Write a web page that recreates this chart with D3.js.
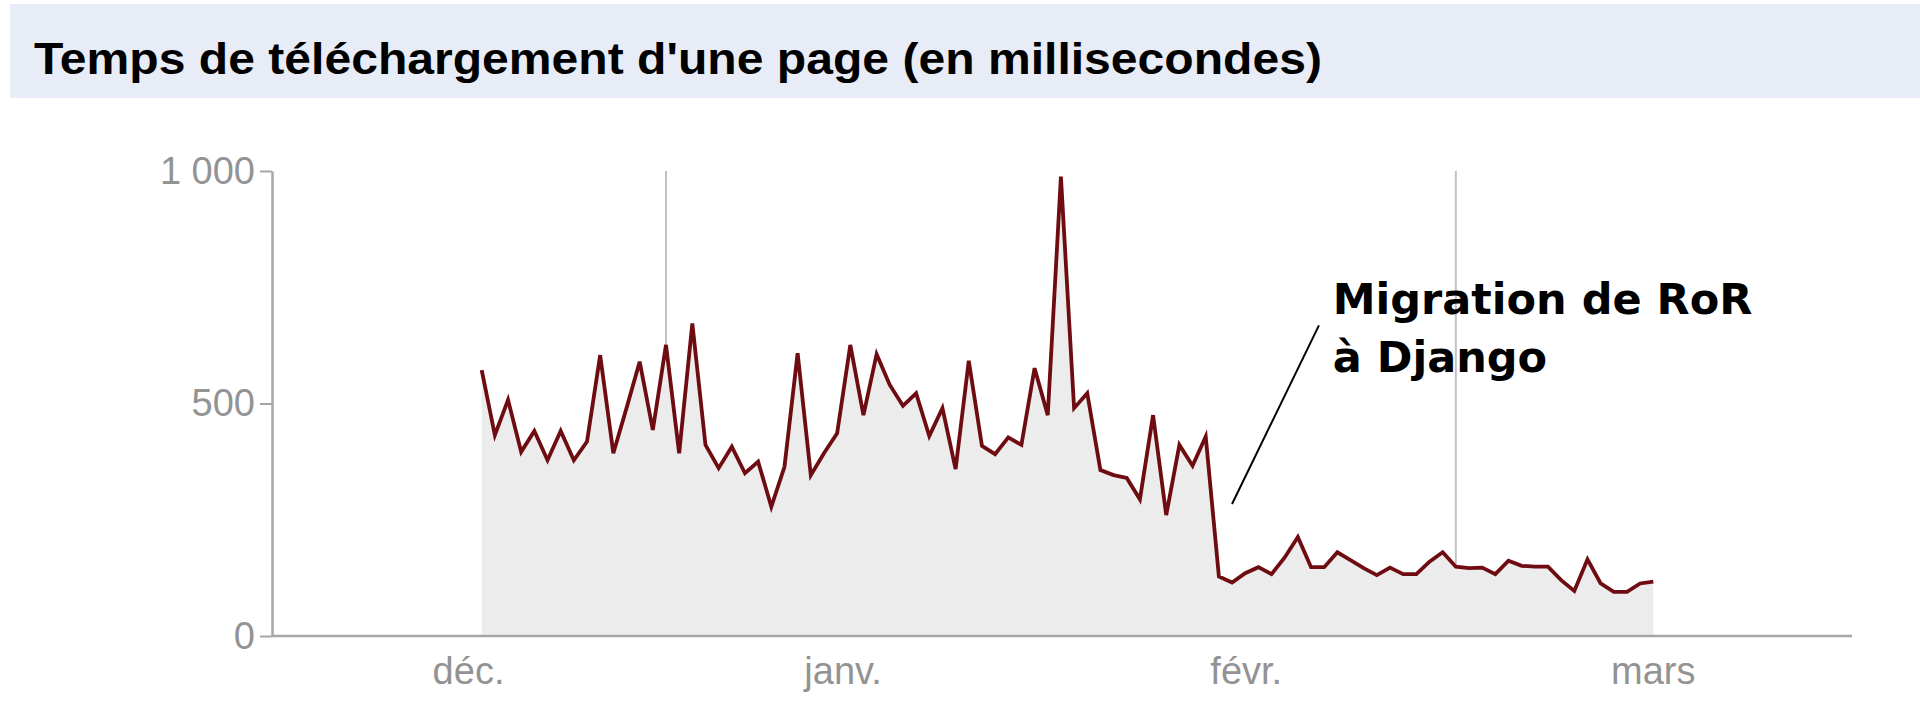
<!DOCTYPE html>
<html><head><meta charset="utf-8">
<script src="https://cdn.jsdelivr.net/npm/d3@7"></script>
<style>html,body{margin:0;padding:0;background:#fff;overflow:hidden}</style>
</head><body><svg id="c" width="1920" height="727"></svg>
<script>
// ---- data ----
const chartTitle = "Temps de téléchargement d'une page (en millisecondes)";
// daily page load time (ms), 90 consecutive days
const loadTimes = [
  572, 432, 508, 396, 441, 378, 441, 378, 418, 604,
  393, 490, 590, 443, 626, 393, 672, 411, 361, 407,
  350, 375, 278, 364, 608, 346, 393, 436, 626, 475,
  606, 540, 495, 522, 430, 490, 359, 592, 409, 391,
  427, 411, 576, 475, 988, 490, 522, 357, 346, 340,
  294, 475, 260, 411, 366, 429, 128, 115, 135, 148,
  133, 169, 213, 148, 148, 180, 163, 146, 131, 147,
  133, 133, 160, 180, 149, 146, 147, 133, 162, 151,
  149, 149, 120, 97, 165, 113, 95, 95, 113, 117
];
const yTickValues = [0, 500, 1000];
const xTickLabels = ["déc.", "janv.", "févr.", "mars"];
const xTickDays = [-1, 27.45, 58.08, 89];   // day offsets of month labels
const gridDays = [14, 74];                   // vertical gridlines (day offsets)
const annotationText = ["Migration de RoR", "à Django"];
const annotationFrom = {day: 57, value: 284};
const annotationTo = {day: 63.6, value: 668};
const annotationLabelAt = {day: 64.65, value: 692};

// ---- drawing ----
const svg = d3.select("#c");
const W = 1920;
const plotLeft = 272, plotRight = 1852, plotTop = 171, plotBottom = 636;

const x = d3.scaleLinear().domain([0, loadTimes.length - 1]).range([481.7, 1653.3]);
const y = d3.scaleLinear().domain([0, 1000]).range([plotBottom, plotTop]);

// title band
svg.append("rect").attr("x", 10).attr("y", 4).attr("width", W - 10).attr("height", 94)
  .attr("fill", "#e8ecf6");
svg.append("text").attr("x", 34).attr("y", 74)
  .attr("font-family", "'Liberation Sans', Arial, sans-serif")
  .attr("font-weight", "bold").attr("font-size", 45)
  .attr("textLength", 1288).attr("lengthAdjust", "spacingAndGlyphs")
  .attr("fill", "#000").text(chartTitle);

// gridlines
svg.append("g").selectAll("line").data(gridDays).join("line")
  .attr("x1", d => x(d)).attr("x2", d => x(d))
  .attr("y1", plotTop).attr("y2", plotBottom)
  .attr("stroke", "#c2c2c2").attr("stroke-width", 2);

// area
const idx = d3.range(loadTimes.length);
svg.append("path").datum(idx)
  .attr("d", d3.area().x(i => x(i)).y0(y(0)).y1(i => y(loadTimes[i])))
  .attr("fill", "#ececec");

// line
svg.append("path").datum(idx)
  .attr("d", d3.line().x(i => x(i)).y(i => y(loadTimes[i])))
  .attr("fill", "none").attr("stroke", "#6e0c12").attr("stroke-width", 3.8)
  .attr("stroke-linejoin", "miter");

// x axis line
svg.append("line").attr("x1", plotLeft).attr("x2", plotRight)
  .attr("y1", plotBottom).attr("y2", plotBottom)
  .attr("stroke", "#a6a6a6").attr("stroke-width", 2.5);

// y axis
const yAxis = d3.axisLeft(y).tickValues(yTickValues).tickSize(12).tickSizeOuter(0).tickPadding(5)
  .tickFormat(d => d3.format(",")(d).replace(/,/g, " "));
const gy = svg.append("g").attr("transform", `translate(${plotLeft},0)`).call(yAxis);
gy.select(".domain").attr("stroke", "#a6a6a6").attr("stroke-width", 2.5);
gy.selectAll(".tick line").attr("stroke", "#a6a6a6").attr("stroke-width", 2);
gy.selectAll(".tick text").attr("fill", "#939393")
  .attr("font-family", "'Liberation Sans', Arial, sans-serif").attr("font-size", 38);

// x labels
svg.append("g").selectAll("text").data(xTickDays).join("text")
  .attr("x", d => x(d)).attr("y", 684)
  .attr("text-anchor", "middle")
  .attr("font-family", "'Liberation Sans', Arial, sans-serif").attr("font-size", 38)
  .attr("fill", "#939393")
  .text((d, i) => xTickLabels[i]);

// annotation
svg.append("line")
  .attr("x1", x(annotationFrom.day)).attr("y1", y(annotationFrom.value))
  .attr("x2", x(annotationTo.day)).attr("y2", y(annotationTo.value))
  .attr("stroke", "#000").attr("stroke-width", 2);
const at = svg.append("text")
  .attr("font-family", "'DejaVu Sans', sans-serif").attr("font-weight", "bold")
  .attr("font-size", 43).attr("fill", "#000");
at.selectAll("tspan").data(annotationText).join("tspan")
  .attr("x", x(annotationLabelAt.day))
  .attr("y", (d, i) => y(annotationLabelAt.value) + i * 58)
  .text(d => d);
</script></body></html>
